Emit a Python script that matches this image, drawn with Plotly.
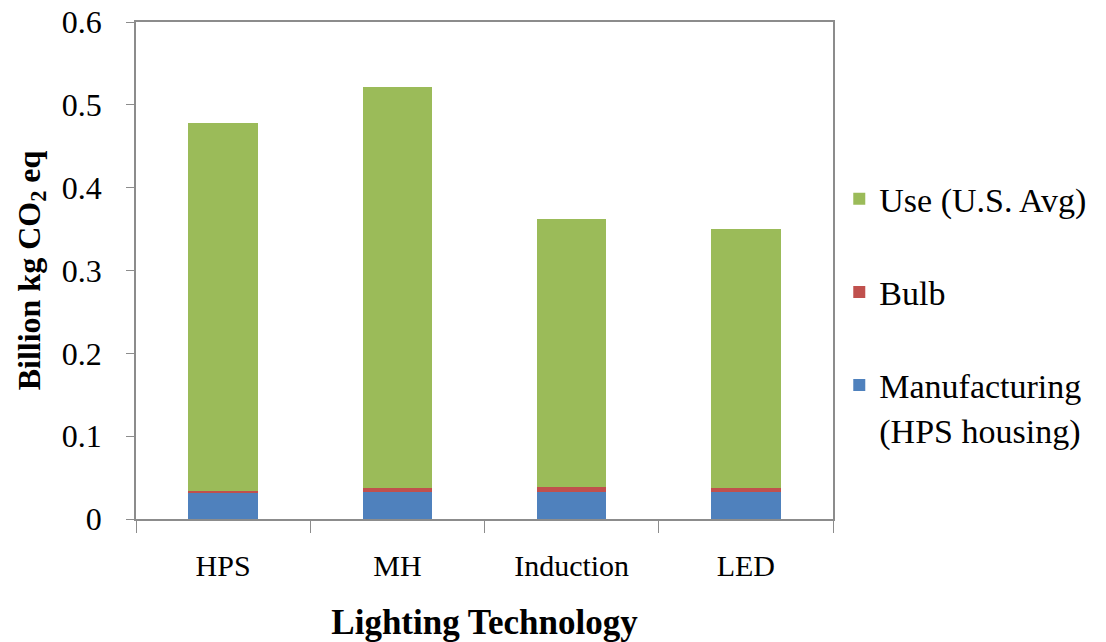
import plotly.graph_objects as go

categories = ["HPS", "MH", "Induction", "LED"]
manufacturing = [0.032, 0.032, 0.032, 0.032]
bulb = [0.002, 0.005, 0.007, 0.006]
use = [0.444, 0.484, 0.3235, 0.312]

series_names = ["Manufacturing<br>(HPS housing)", "Bulb", "Use (U.S. Avg)"]
series_values = [manufacturing, bulb, use]
series_colors = ["#4F81BD", "#C0504D", "#9BBB59"]
legend_ranks = [3, 2, 1]

FONT = "Liberation Serif, Times New Roman, serif"

fig = go.Figure()
for i, (name, vals, col, rk) in enumerate(zip(series_names, series_values, series_colors, legend_ranks)):
    fig.add_trace(go.Bar(
        x=categories, y=vals, name=name,
        marker=dict(color=col, line=dict(width=0)),
        legendgroup=f"g{i}",
        legendrank=rk,
    ))

fig.update_layout(
    barmode="stack",
    bargap=0.6,
    width=1106, height=642,
    margin=dict(l=136, r=273, t=22, b=123, autoexpand=False),
    paper_bgcolor="white",
    plot_bgcolor="white",
    font=dict(family=FONT, color="black"),
    showlegend=True,
    legend=dict(
        x=1.009, xanchor="left",
        y=0.702, yanchor="top",
        traceorder="grouped",
        tracegroupgap=46,
        valign="top",
        font=dict(size=34, family=FONT, color="black"),
        bgcolor="rgba(0,0,0,0)",
    ),
    xaxis=dict(
        automargin=False,
        showline=True, linecolor="#8C8C8C", linewidth=1.5, mirror=True,
        ticks="outside", tickson="boundaries", ticklen=12, tickcolor="#8C8C8C",
        tickfont=dict(size=30, family=FONT),
        ticklabelstandoff=19,
        title=dict(text="<b>Lighting Technology</b>", font=dict(size=35, family=FONT), standoff=30),
        showgrid=False,
    ),
    yaxis=dict(
        automargin=False,
        range=[0, 0.6], dtick=0.1,
        showline=True, linecolor="#8C8C8C", linewidth=1.5, mirror=True,
        ticks="outside", ticklen=8, tickcolor="#8C8C8C",
        tickfont=dict(size=32, family=FONT),
        ticklabelstandoff=18,
        showgrid=False, zeroline=False,
        title=dict(text="<b>Billion kg CO<sub>2</sub> eq</b>", font=dict(size=32, family=FONT), standoff=12),
    ),
)

fig.write_html("out.html", config={"displayModeBar": False},
               post_script="document.body.style.margin='0px';")
